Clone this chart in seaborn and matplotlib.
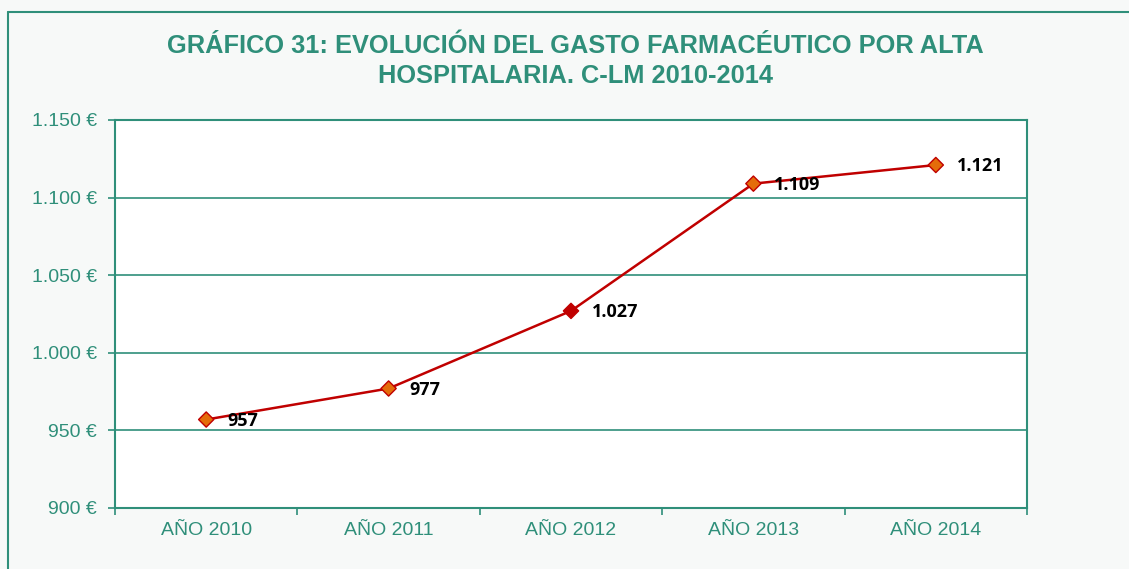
import pandas as pd
import matplotlib.pyplot as plt
import seaborn as sns
from matplotlib.ticker import FuncFormatter, FixedLocator
from matplotlib.lines import Line2D

# datos del gráfico
anios = ['AÑO 2010', 'AÑO 2011', 'AÑO 2012', 'AÑO 2013', 'AÑO 2014']
gasto = [957, 977, 1027, 1109, 1121]

TEAL = '#2f8f7a'
ROJO = '#c00000'
NARANJA = '#e46c0a'
FONDO = '#f7f9f8'


def miles(v):
    s = f"{int(round(v)):,}".replace(',', '.')
    return s


sns.set_style('white')
plt.rcParams['font.family'] = ['Liberation Sans', 'DejaVu Sans']

df = pd.DataFrame({'anio': anios, 'gasto': gasto})

fig = plt.figure(figsize=(11.29, 5.69), dpi=100, facecolor=FONDO)
ax = fig.add_axes([115 / 1129, 1 - 508 / 569, (1027 - 115) / 1129, (508 - 120) / 569])
ax.set_facecolor('white')

sns.lineplot(data=df, x='anio', y='gasto', ax=ax, color=ROJO, linewidth=1.8,
             sort=False, zorder=3)
# marcadores: el de 2012 va relleno en rojo oscuro
relleno = [ROJO if a == 'AÑO 2012' else NARANJA for a in anios]
ax.scatter(range(len(anios)), gasto, marker='D', s=60, c=relleno,
           edgecolors=ROJO, linewidths=1.0, zorder=4)

for i, v in enumerate(gasto):
    ax.annotate(miles(v), (i, v), xytext=(15, -1), textcoords='offset points',
                ha='left', va='center', fontsize=13, fontweight='bold',
                color='black', family=['Open Sans', 'DejaVu Sans'])

ax.set_ylim(900, 1150)
ax.set_xlim(-0.5, len(anios) - 0.5)
ax.set_yticks([900, 950, 1000, 1050, 1100, 1150])
ax.yaxis.set_major_formatter(FuncFormatter(lambda v, p: f"{miles(v)} €"))
ax.grid(axis='y', color=TEAL, linewidth=1.2)
ax.set_axisbelow(True)

ax.xaxis.set_minor_locator(FixedLocator([i - 0.5 for i in range(len(anios) + 1)]))
ax.tick_params(axis='x', which='major', length=0, pad=10, labelsize=14, labelcolor=TEAL)
ax.tick_params(axis='x', which='minor', length=5, width=1.2, color=TEAL, direction='out', bottom=True)
ax.tick_params(axis='y', length=5, width=1.2, color=TEAL, direction='out', left=True,
               labelsize=14, labelcolor=TEAL, pad=8)

for lado in ['left', 'right', 'bottom', 'top']:
    ax.spines[lado].set_visible(True)
    ax.spines[lado].set_color(TEAL)
    ax.spines[lado].set_linewidth(1.5)

ax.set_xlabel('')
ax.set_ylabel('')

fig.text(575 / 1129, 1 - 61 / 569,
         'GRÁFICO 31: EVOLUCIÓN DEL GASTO FARMACÉUTICO POR ALTA\nHOSPITALARIA. C-LM 2010-2014',
         ha='center', va='center', fontsize=18.3, fontweight='bold', color=TEAL,
         linespacing=1.28)

# marco exterior
x0, y0 = 8 / 1129, 1 - 12 / 569
fig.add_artist(Line2D([x0, 1], [y0, y0], color=TEAL, linewidth=1.5, transform=fig.transFigure))
fig.add_artist(Line2D([x0, x0], [0, y0], color=TEAL, linewidth=1.5, transform=fig.transFigure))

fig.savefig('out.png', dpi=100, facecolor=FONDO)
